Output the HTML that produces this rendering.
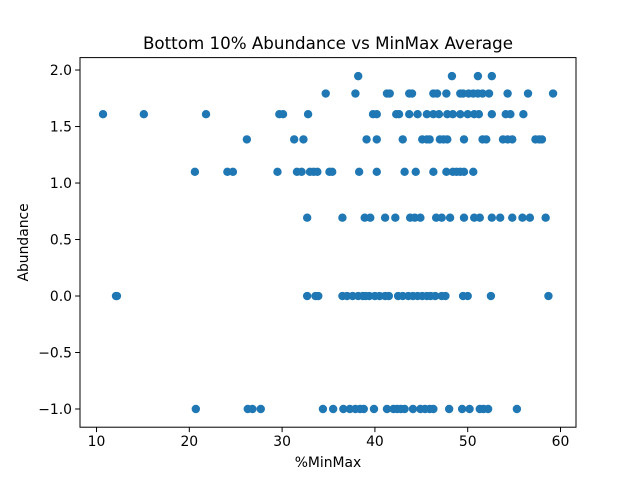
<!DOCTYPE html>
<html><head><meta charset="utf-8"><style>
body{margin:0;background:#fff;}
svg{display:block;font-family:"DejaVu Sans","Liberation Sans",sans-serif;}
</style></head><body>
<svg id="chart" width="640" height="480" viewBox="0 0 640 480">
<rect width="640" height="480" fill="#fff"/>
<text x="328" y="49" font-size="16.7" text-anchor="middle">Bottom 10% Abundance vs MinMax Average</text>
<g id="points"></g>
<g id="axes"></g>
<text x="328" y="467" font-size="13.9" text-anchor="middle">%MinMax</text>
<text transform="translate(28,242.4) rotate(-90)" font-size="13.9" text-anchor="middle">Abundance</text>
</svg>
<script>
const xTicks=[10,20,30,40,50,60];
const yTicks=[-1.0,-0.5,0.0,0.5,1.0,1.5,2.0];
const row195=[38.2,48.3,51.1,52.6];
const row179=[34.7,37.9,41.3,41.6,43.7,44.0,46.3,46.7,47.7,49.2,49.5,50.1,50.6,51.1,51.6,52.3,54.3,56.5,59.2];
const row161=[10.7,15.1,21.8,29.7,30.1,32.8,39.8,40.2,42.3,42.6,43.7,44.6,45.6,46.3,46.9,47.8,48.4,49.2,50.0,50.7,51.2,52.6,54.1,54.6,56.0];
const row139=[26.2,31.3,32.3,39.1,40.2,43.0,45.1,45.6,45.9,47.0,47.4,47.8,49.6,51.6,52.0,53.8,54.3,54.8,57.3,57.7,58.0];
const row110=[20.6,24.1,24.7,29.5,31.6,32.1,33.0,33.4,33.8,35.1,35.4,38.3,40.2,43.2,44.4,46.3,47.7,48.4,48.8,49.2,49.6,50.6];
const row069=[32.7,36.5,38.9,39.5,41.1,42.2,43.8,44.3,44.9,46.6,47.2,48.1,49.6,50.7,51.3,52.6,53.5,54.8,55.9,56.7,58.4];
const row000=[12.1,12.2,32.7,33.6,33.9,36.5,37.0,37.6,38.2,38.7,39.0,39.4,40.0,40.5,41.1,41.5,42.5,43.0,43.6,44.1,44.6,45.1,45.6,46.0,46.5,47.2,47.6,49.5,50.0,52.5,58.7];
const rowM1=[20.7,26.3,26.8,27.7,34.4,35.5,36.6,37.3,37.9,38.4,38.8,39.9,41.3,42.0,42.4,42.8,43.2,44.1,44.9,45.4,45.9,46.3,48.0,49.4,50.2,51.3,51.7,52.2,55.3];
const rowVals=[1.946,1.792,1.609,1.386,1.099,0.693,0,-1];
const rows=[row195,row179,row161,row139,row110,row069,row000,rowM1];

const L=80,R=576,T=57.6,B=427.2;
const xMin=8.22,xMax=61.67,yMin=-1.161,yMax=2.11;
const xs=v=>L+(v-xMin)/(xMax-xMin)*(R-L);
const ys=v=>B-(v-yMin)/(yMax-yMin)*(B-T);
const NS="http://www.w3.org/2000/svg";
const pts=document.getElementById('points');
rows.forEach((row,i)=>{row.forEach(x=>{
  const c=document.createElementNS(NS,'circle');
  c.setAttribute('cx',xs(x));c.setAttribute('cy',ys(rowVals[i]));c.setAttribute('r',4.2);
  c.setAttribute('fill','#1f77b4');
  
  
  pts.appendChild(c);
});});
const ax=document.getElementById('axes');
let h=`<rect x="${L}" y="${T}" width="${R-L}" height="${B-T}" fill="none" stroke="#000" stroke-width="1"/>`;
xTicks.forEach(t=>{const x=xs(t);
  h+=`<line x1="${x}" y1="${B}" x2="${x}" y2="${B+4.9}" stroke="#000"/>`;
  h+=`<text x="${x}" y="${B+19}" font-size="13.9" text-anchor="middle">${t}</text>`;});
yTicks.forEach(t=>{const y=ys(t);
  h+=`<line x1="${L-4.9}" y1="${y}" x2="${L}" y2="${y}" stroke="#000"/>`;
  h+=`<text x="${L-8}" y="${y+5}" font-size="13.9" text-anchor="end">${t.toFixed(1).replace('-','\u2212')}</text>`;});
ax.innerHTML=h;
</script>
</body></html>
